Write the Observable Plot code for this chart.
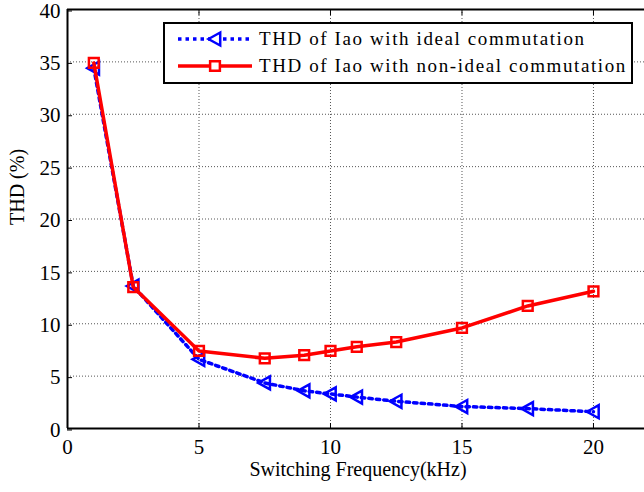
<!DOCTYPE html>
<html><head><meta charset="utf-8">
<script src="https://cdn.jsdelivr.net/npm/d3@7"></script>
<script src="https://cdn.jsdelivr.net/npm/@observablehq/plot@0.6"></script>
<style>
body{margin:0;background:#fff;}
#wrap{position:relative;width:644px;height:492px;font-family:"Liberation Serif","Times New Roman",serif;overflow:hidden;}
#chart svg, #chart svg text{font-family:"Liberation Serif","Times New Roman",serif !important;}
#legend{position:absolute;left:163px;top:22px;width:470px;height:62px;border:2px solid #000;background:#fff;box-sizing:border-box;}
#legend .row{position:absolute;left:0;height:28px;display:flex;align-items:center;}
#legend .row span{font-size:19px;letter-spacing:1.6px;color:#000;margin-left:6px;white-space:nowrap;}
</style></head><body><div id="wrap"><div id="chart"></div><div id="legend"></div></div>
<script>
const freq = [1, 2.5, 5, 7.5, 9, 10, 11, 12.5, 15, 17.5, 20];
const thdIdeal = [34.4, 13.6, 6.6, 4.35, 3.6, 3.3, 3.0, 2.6, 2.1, 1.9, 1.6];
const thdNonIdeal = [34.9, 13.5, 7.4, 6.7, 7.0, 7.4, 7.8, 8.25, 9.6, 11.7, 13.1];
const xTicks = [0, 5, 10, 15, 20];
const yTicks = [0, 5, 10, 15, 20, 25, 30, 35, 40];
const seriesNames = ["THD of Iao with ideal commutation", "THD of Iao with non-ideal commutation"];
const xLabel = "Switching Frequency(kHz)";
const yLabel = "THD (%)";

const ideal = freq.map((f, i) => ({f, v: thdIdeal[i]}));
const nonIdeal = freq.map((f, i) => ({f, v: thdNonIdeal[i]}));

const triLeft = {
  draw(context, size) {
    const r = Math.sqrt(size / Math.PI);
    context.moveTo(-r, 0);
    context.lineTo(r * 0.8, -r);
    context.lineTo(r * 0.8, r);
    context.closePath();
  }
};

const font = {fontFamily: "'Liberation Serif', 'Times New Roman', serif"};
const chart = Plot.plot({
  width: 644,
  height: 492,
  marginLeft: 67,
  marginRight: 0,
  marginTop: 9,
  marginBottom: 64,
  style: {fontFamily: "'Liberation Serif', 'Times New Roman', serif", fontSize: "21px", background: "#fff"},
  x: {domain: [0, 21.94]},
  y: {domain: [0, 40]},
  marks: [
    Plot.gridX(xTicks, {stroke: "#444", strokeOpacity: 0.9, strokeDasharray: "1,2", strokeWidth: 1}),
    Plot.gridY(yTicks, {stroke: "#444", strokeOpacity: 0.9, strokeDasharray: "1,2", strokeWidth: 1}),
    Plot.axisX(xTicks, {anchor: "bottom", tickSize: -5, tickPadding: 16, label: null, fontSize: 21, letterSpacing: 0.3, ...font}),
    Plot.axisX(xTicks, {anchor: "top", tickSize: -5, tickFormat: () => "", label: null}),
    Plot.axisY(yTicks, {anchor: "left", tickSize: -5, tickPadding: 12, dy: 1.5, label: null, fontSize: 21, letterSpacing: 0.3, ...font}),
    Plot.ruleX([0], {stroke: "#000", strokeWidth: 2}),
    Plot.ruleY([0], {stroke: "#000", strokeWidth: 2}),
    Plot.ruleY([40], {stroke: "#000", strokeWidth: 2}),
    Plot.line(ideal, {x: "f", y: "v", stroke: "#0000ff", strokeWidth: 3.5, strokeDasharray: "3.5,4"}),
    Plot.dot(ideal, {x: "f", y: "v", symbol: triLeft, r: 6.5, stroke: "#0000ff", strokeWidth: 2.5, fill: "none"}),
    Plot.line(nonIdeal, {x: "f", y: "v", stroke: "#ff0000", strokeWidth: 3.5}),
    Plot.dot(nonIdeal, {x: "f", y: "v", symbol: "square", r: 5.5, stroke: "#ff0000", strokeWidth: 2.5, fill: "none"}),
    Plot.text([xLabel], {frameAnchor: "bottom", dx: 2, dy: 47, fontSize: 20, letterSpacing: 2.1, fill: "#000", ...font}),
    Plot.text([yLabel], {frameAnchor: "left", dy: 6, dx: -50, rotate: -90, fontSize: 20, letterSpacing: 1.4, fill: "#000", ...font})
  ]
});
document.getElementById("chart").appendChild(chart);

// Legend
const legend = d3.select("#legend");
const rows = [
  {name: seriesNames[0], color: "#0000ff", dash: "3.5,4", sym: triLeft, top: 1},
  {name: seriesNames[1], color: "#ff0000", dash: null, sym: d3.symbolSquare, top: 28}
];
rows.forEach(r => {
  const row = legend.append("div").attr("class", "row").style("top", r.top + "px");
  const svg = row.append("svg").attr("width", 88).attr("height", 28);
  svg.append("line").attr("x1", 13).attr("x2", 87).attr("y1", 14).attr("y2", 14)
    .attr("stroke", r.color).attr("stroke-width", 3.5).attr("stroke-dasharray", r.dash);
  svg.append("path").attr("transform", "translate(50,14)")
    .attr("d", d3.symbol(r.sym, r.sym === triLeft ? Math.PI * 6.5 * 6.5 : Math.PI * 5.5 * 5.5)())
    .attr("fill", "#fff").attr("stroke", r.color).attr("stroke-width", 2.5);
  row.append("span").text(r.name);
});
</script>
</body></html>
